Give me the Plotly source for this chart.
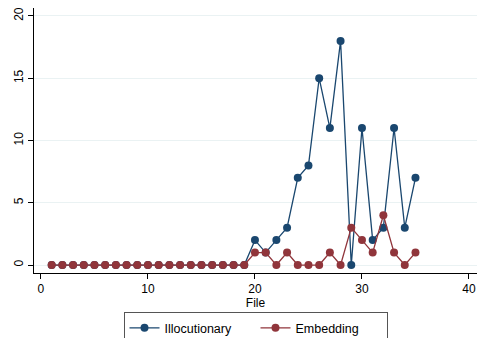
import plotly.graph_objects as go

files = list(range(1, 36))
illocutionary = [0]*19 + [2, 1, 2, 3, 7, 8, 15, 11, 18, 0, 11, 2, 3, 11, 3, 7]
embedding = [0]*19 + [1, 1, 0, 1, 0, 0, 0, 1, 0, 3, 2, 1, 4, 1, 0, 1]

blue = "#1a476f"
red = "#90353b"

fig = go.Figure()
fig.add_trace(go.Scatter(x=files, y=illocutionary, mode="lines+markers", name="Illocutionary",
                         line=dict(color=blue, width=1.3), marker=dict(color=blue, size=8)))
fig.add_trace(go.Scatter(x=files, y=embedding, mode="lines+markers", name="Embedding",
                         line=dict(color=red, width=1.3), marker=dict(color=red, size=8)))

fig.update_layout(
    width=477, height=338,
    margin=dict(l=34, r=0, t=8, b=65, autoexpand=False),
    paper_bgcolor="white", plot_bgcolor="white",
    font=dict(family="Liberation Sans, Arial, sans-serif", size=12, color="black"),
    showlegend=True,
    legend=dict(orientation="h", x=0.5, xanchor="center", y=-0.148, yanchor="top",
                bordercolor="#555555", borderwidth=1, font=dict(size=12.5),
                entrywidth=86, tracegroupgap=0),
    xaxis=dict(range=[-0.65, 40.75], tickvals=[0, 10, 20, 30, 40], showgrid=False,
               showline=True, linecolor="black", linewidth=1, ticks="outside", ticklen=5,
               tickcolor="black", zeroline=False, automargin=False,
               title=dict(text="File", standoff=3, font=dict(size=12))),
    yaxis=dict(range=[-0.64, 20.64], tickvals=[0, 5, 10, 15, 20], showgrid=True,
               gridcolor="#eaf2f3", gridwidth=1, showline=True, linecolor="black", linewidth=1,
               ticks="outside", ticklen=5, tickcolor="black", zeroline=False, tickangle=-90,
               automargin=False),
)

fig.write_html("out.html", config={"displayModeBar": False},
               post_script="document.body.style.margin='0px';document.body.style.overflow='hidden';")
